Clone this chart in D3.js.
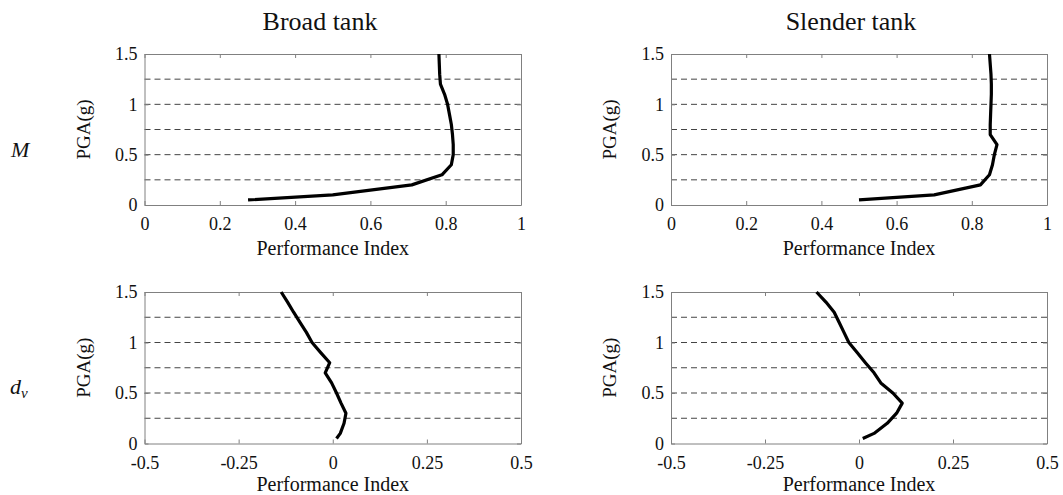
<!DOCTYPE html>
<html>
<head>
<meta charset="utf-8">
<script src="https://cdn.jsdelivr.net/npm/d3@7"></script>
<style>
  body { margin: 0; background: #fff; }
  svg text { font-family: "Liberation Serif", "Times New Roman", serif; fill: #111; }
</style>
</head>
<body>
<svg id="chart" width="1063" height="495"></svg>
<script>
//
// data (PGA in g, performance index)
//
const pga = [0.05, 0.1, 0.2, 0.3, 0.4, 0.5, 0.6, 0.7, 0.8, 0.9, 1.0, 1.1, 1.2, 1.3, 1.4, 1.5];

const broadM  = [0.275, 0.5, 0.71, 0.79, 0.815, 0.82, 0.82, 0.818, 0.815, 0.81, 0.805, 0.797, 0.786, 0.784, 0.783, 0.782];
const slenderM = [0.5, 0.7, 0.823, 0.847, 0.855, 0.86, 0.867, 0.849, 0.849, 0.85, 0.851, 0.852, 0.852, 0.851, 0.849, 0.847];
const broadDv  = [0.01, 0.02, 0.03, 0.035, 0.022, 0.01, -0.003, -0.02, -0.008, -0.032, -0.055, -0.07, -0.087, -0.104, -0.12, -0.137];
const slenderDv = [0.01, 0.04, 0.075, 0.1, 0.115, 0.09, 0.058, 0.04, 0.017, -0.005, -0.027, -0.04, -0.053, -0.066, -0.088, -0.113];

const colTitles = ['Broad tank', 'Slender tank'];
const yTicks = [0, 0.5, 1, 1.5];
const gridLines = [0.25, 0.5, 0.75, 1, 1.25];
const xTicksM = [0, 0.2, 0.4, 0.6, 0.8, 1];
const xTicksDv = [-0.5, -0.25, 0, 0.25, 0.5];

const svg = d3.select('#chart');
const serif = '"Liberation Serif", "Times New Roman", serif';

// panel geometry
const cols = [{left: 144.5, right: 521}, {left: 671, right: 1047}];
const rows = [{top: 54, bottom: 205, label: 50}, {top: 292, bottom: 443.5, label: 47}];

const panels = [
    {row: 0, col: 0, vals: broadM,    domain: [0, 1],      ticks: xTicksM},
    {row: 0, col: 1, vals: slenderM,  domain: [0, 1],      ticks: xTicksM},
    {row: 1, col: 0, vals: broadDv,   domain: [-0.5, 0.5], ticks: xTicksDv},
    {row: 1, col: 1, vals: slenderDv, domain: [-0.5, 0.5], ticks: xTicksDv}
];

panels.forEach(p => {
    const c = cols[p.col], r = rows[p.row];
    const w = c.right - c.left, h = r.bottom - r.top;
    const x = d3.scaleLinear().domain(p.domain).range([0, w]);
    const y = d3.scaleLinear().domain([0, 1.5]).range([h, 0]);

    const g = svg.append('g')
        .attr('transform', `translate(${c.left},${r.top})`);

    // dashed grid
    g.selectAll('line.grid')
        .data(gridLines)
        .join('line')
        .attr('x1', 0).attr('x2', w)
        .attr('y1', d => y(d)).attr('y2', d => y(d))
        .attr('stroke', '#444')
        .attr('stroke-width', 1)
        .attr('stroke-dasharray', '6,4');

    // axes (MATLAB style box with inward ticks)
    const axColor = '#808080';
    const bottom = g.append('g')
        .attr('transform', `translate(0,${h})`)
        .call(d3.axisBottom(x).tickValues(p.ticks).tickFormat(d => String(d)).tickSizeInner(-4).tickSizeOuter(0));
    g.append('g')
        .call(d3.axisTop(x).tickValues(p.ticks).tickFormat('').tickSizeInner(-4).tickSizeOuter(0));
    g.append('g')
        .call(d3.axisLeft(y).tickValues(yTicks).tickFormat(d => String(d)).tickSizeInner(-4).tickSizeOuter(0).tickPadding(7));
    g.append('g')
        .attr('transform', `translate(${w},0)`)
        .call(d3.axisRight(y).tickValues(yTicks).tickFormat('').tickSizeInner(-4).tickSizeOuter(0));

    g.selectAll('g').attr('font-family', serif).attr('font-size', 18);
    g.selectAll('.domain').attr('stroke', axColor);
    g.selectAll('.tick line').attr('stroke', axColor);
    g.selectAll('.tick text').attr('fill', '#111');
    bottom.selectAll('.tick text').attr('dy', null).attr('y', 25);

    // curve
    g.append('path')
        .datum(pga.map((v, i) => [p.vals[i], v]))
        .attr('fill', 'none')
        .attr('stroke', '#000')
        .attr('stroke-width', 3.2)
        .attr('stroke-linejoin', 'round')
        .attr('d', d3.line().x(d => x(d[0])).y(d => y(d[1])));

    // axis labels
    g.append('text')
        .attr('x', w / 2)
        .attr('y', h + r.label)
        .attr('text-anchor', 'middle')
        .attr('font-size', 20)
        .text('Performance Index');
    g.append('text')
        .attr('transform', `translate(${-55},${h / 2}) rotate(-90)`)
        .attr('text-anchor', 'middle')
        .attr('font-size', 19)
        .text('PGA(g)');
});

// column titles
svg.selectAll('text.col-title')
    .data(colTitles)
    .join('text')
    .attr('class', 'col-title')
    .attr('x', (d, i) => [320, 851][i])
    .attr('y', 30)
    .attr('text-anchor', 'middle')
    .attr('font-size', 26)
    .text(d => d);

// row labels
svg.append('text')
    .attr('x', 11).attr('y', 157)
    .attr('font-size', 22)
    .attr('font-style', 'italic')
    .text('M');
const dv = svg.append('text')
    .attr('x', 10).attr('y', 394)
    .attr('font-size', 22)
    .attr('font-style', 'italic');
dv.append('tspan').text('d');
dv.append('tspan').attr('dy', 4).attr('font-size', 15).text('v');
</script>
</body>
</html>
